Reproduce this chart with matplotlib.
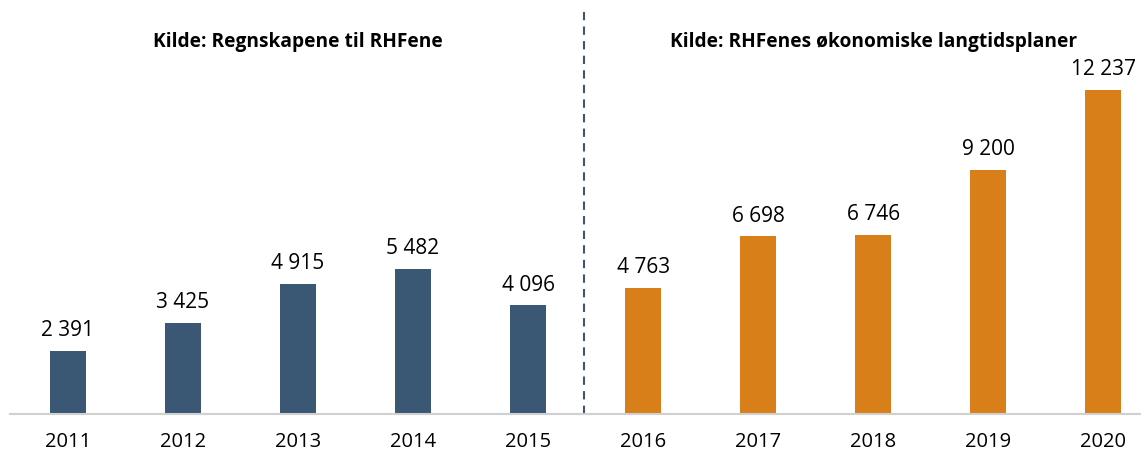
import matplotlib.pyplot as plt

# data
years = ['2011', '2012', '2013', '2014', '2015', '2016', '2017', '2018', '2019', '2020']
values = [2391, 3425, 4915, 5482, 4096, 4763, 6698, 6746, 9200, 12237]
labels = ['2 391', '3 425', '4 915', '5 482', '4 096', '4 763', '6 698', '6 746', '9 200', '12 237']
n_actual = 5  # first five from regnskap, rest from plans
headers = ['Kilde: Regnskapene til RHFene', 'Kilde: RHFenes økonomiske langtidsplaner']

navy = '#3a5774'
orange = '#d87f1a'

plt.rcParams['font.family'] = ['Open Sans', 'DejaVu Sans']

fig = plt.figure(figsize=(11.47, 4.54), dpi=100)
ax = fig.add_axes([10 / 1147, 1 - 414 / 454, 1130 / 1147, 414 / 454])

x = list(range(len(years)))
colors = [navy] * n_actual + [orange] * (len(years) - n_actual)
bars = ax.bar(x, values, width=0.31, color=colors)

for xi, v, lab in zip(x, values, labels):
    ax.annotate(lab, (xi, v), xytext=(0, 7), textcoords='offset points',
                ha='center', va='bottom', fontsize=15)

ax.set_xlim(-0.504, 9.32)
ax.set_ylim(0, 15620)

ax.set_xticks(x)
ax.set_xticklabels(years, fontsize=14.5)
ax.tick_params(axis='x', length=0, pad=13)
ax.set_yticks([])

for s in ['top', 'right', 'left']:
    ax.spines[s].set_visible(False)
ax.spines['bottom'].set_color('#d0d0d0')
ax.spines['bottom'].set_linewidth(1.5)

# divider between the two sources
ax.axvline(4.49, ymin=0, ymax=0.97, color='#44546a', linestyle=(0, (4, 3)), linewidth=1.5)

ax.text(2.0, 0.899, headers[0], transform=ax.get_xaxis_transform(),
        ha='center', va='center', fontsize=13.8, fontweight='bold')
ax.text(7.0, 0.899, headers[1], transform=ax.get_xaxis_transform(),
        ha='center', va='center', fontsize=13.8, fontweight='bold')

fig.savefig('out.png', dpi=100)
